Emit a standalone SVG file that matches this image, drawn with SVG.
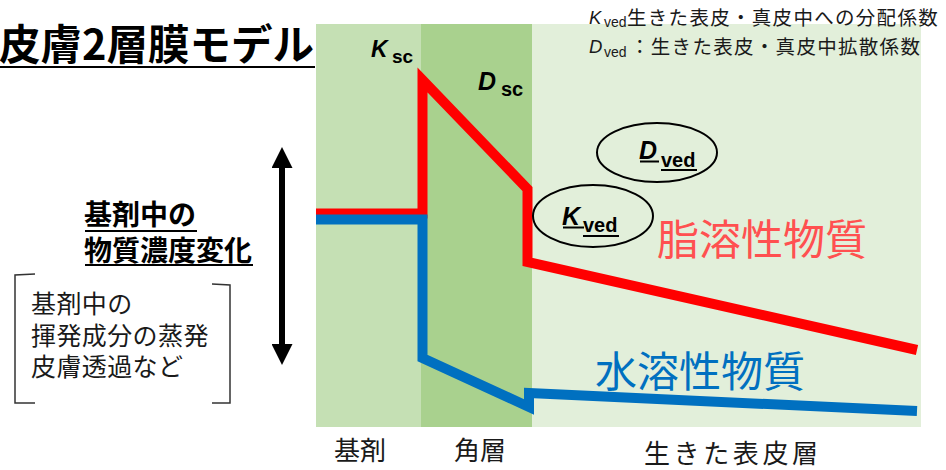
<svg xmlns="http://www.w3.org/2000/svg" width="946" height="470" viewBox="0 0 946 470">
<style>
.jp{font-family:"Noto Sans CJK JP","Noto Sans",sans-serif}
.lat{font-family:"Liberation Sans",Arial,sans-serif}
.b{font-weight:bold}
.i{font-style:italic}
.ul{stroke:#000;stroke-width:2}
.ell{fill:none;stroke:#000;stroke-width:2}
.curve{fill:none;stroke-width:10;stroke-linejoin:miter;stroke-miterlimit:6;stroke-linecap:butt}
</style>
<defs>
<marker id="ah" viewBox="0 0 21 21" markerWidth="21" markerHeight="21" refX="0" refY="10.5" orient="auto-start-reverse" markerUnits="userSpaceOnUse">
<path d="M0,0 L21,10.5 L0,21 z" fill="#000"/>
</marker>
</defs>
<rect width="946" height="470" fill="#fff"/>
<g id="layers">
<rect id="layer-base" x="316" y="24" width="105" height="403" fill="#c5e0b4"/>
<rect id="layer-sc" x="421" y="24" width="111" height="403" fill="#a9d18e"/>
<rect id="layer-ved" x="532" y="24" width="389" height="403" fill="#e2efda"/>
</g>
<g id="title">
<text x="-1" y="60" class="jp b" font-size="41.5" fill="#000">皮膚2層膜モデル</text>
<line x1="0" y1="67" x2="315" y2="67" class="ul"/>
</g>
<g id="legend" class="jp" fill="#1a1a1a">
<text x="589" y="24" class="lat i" font-size="18.5">K</text>
<text x="604" y="26.5" class="lat" font-size="14">ved</text>
<text x="627" y="25" font-size="19.5" letter-spacing="1.3">生きた表皮・真皮中への分配係数</text>
<text x="589" y="53" class="lat i" font-size="18.5">D</text>
<text x="604" y="57" class="lat" font-size="14">ved</text>
<text x="630" y="54" font-size="19.5" letter-spacing="1.3">：生きた表皮・真皮中拡散係数</text>
</g>
<g id="connectors">
<path id="lipophilic-curve" class="curve" stroke="#ff0000" d="M316,213.5 L422.5,213.5 L422.5,80 L527.5,189 L527.5,262 L917,350"/>
<path id="hydrophilic-curve" class="curve" stroke="#0070c0" d="M316,219.5 L422.5,219.5 L422.5,358 L529,407 L529,393 L917,411"/>
<line id="conc-arrow" x1="282" y1="168" x2="282" y2="344" stroke="#000" stroke-width="6" marker-start="url(#ah)" marker-end="url(#ah)"/>
</g>
<g id="ksc">
<text x="371" y="57" class="lat b i" font-size="23" fill="#000">K</text>
<text x="392" y="63" class="lat b" font-size="19" fill="#000">sc</text>
</g>
<g id="dsc">
<text x="478" y="90" class="lat b i" font-size="25" fill="#000">D</text>
<text x="501" y="96" class="lat b" font-size="20" fill="#000">sc</text>
</g>
<g id="dved">
<ellipse class="ell" cx="657" cy="152.5" rx="60" ry="29.5"/>
<text x="639" y="159" class="lat b i" font-size="25" fill="#000">D</text>
<text x="661" y="167" class="lat b" font-size="20" fill="#000">ved</text>
<line x1="640" y1="161.5" x2="659" y2="161.5" class="ul"/>
<line x1="661" y1="170" x2="697" y2="170" class="ul"/>
</g>
<g id="kved">
<ellipse class="ell" cx="593" cy="216" rx="60" ry="31"/>
<text x="562" y="225" class="lat b i" font-size="25" fill="#000">K</text>
<text x="583" y="232" class="lat b" font-size="20" fill="#000">ved</text>
<line x1="563" y1="227.5" x2="584" y2="227.5" class="ul"/>
<line x1="583" y1="236" x2="619" y2="236" class="ul"/>
</g>
<g id="label-lipophilic">
<text x="657" y="255" class="jp" font-size="42" fill="#ff5050">脂溶性物質</text>
</g>
<g id="label-hydrophilic">
<text x="595" y="387" class="jp" font-size="42" fill="#0070c0">水溶性物質</text>
</g>
<g id="label-conc">
<text x="84" y="225" class="jp b" font-size="28" fill="#000">基剤中の</text>
<line x1="85" y1="231" x2="197" y2="231" class="ul"/>
<text x="84" y="261" class="jp b" font-size="28" fill="#000">物質濃度変化</text>
<line x1="85" y1="265" x2="253" y2="265" class="ul"/>
</g>
<g id="note">
<path d="M35,274 L15,275 L15,403 L35,403" fill="none" stroke="#333" stroke-width="1.5"/>
<path d="M212,284 L230,285 L230,403 L212,403" fill="none" stroke="#333" stroke-width="1.5"/>
<text class="jp" font-size="25" fill="#1a1a1a" letter-spacing="0.4">
<tspan x="31" y="313">基剤中の</tspan>
<tspan x="31" y="345">揮発成分の蒸発</tspan>
<tspan x="31" y="376">皮膚透過など</tspan>
</text>
</g>
<g id="axis-labels" class="jp" font-size="26" fill="#1a1a1a">
<text x="334" y="460">基剤</text>
<text x="454" y="460">角層</text>
<text x="644" y="463" letter-spacing="3.6">生きた表皮層</text>
</g>
</svg>
